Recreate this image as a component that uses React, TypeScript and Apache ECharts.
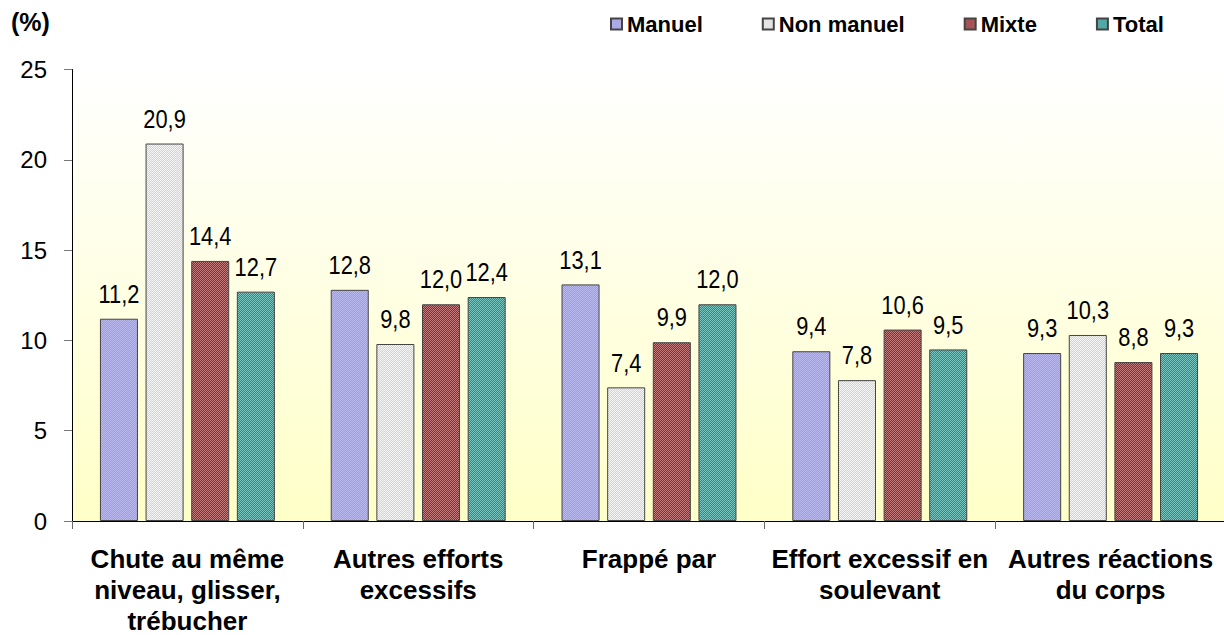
import React, { useEffect, useRef } from "react";
import * as echarts from "echarts";

const categories = [
  "Chute au même\nniveau, glisser,\ntrébucher",
  "Autres efforts\nexcessifs",
  "Frappé par",
  "Effort excessif en\nsoulevant",
  "Autres réactions\ndu corps",
];
const seriesNames = ["Manuel", "Non manuel", "Mixte", "Total"];
const manuel = [11.2, 12.8, 13.1, 9.4, 9.3];
const nonManuel = [20.9, 9.8, 7.4, 7.8, 10.3];
const mixte = [14.4, 12.0, 9.9, 10.6, 8.8];
const total = [12.7, 12.4, 12.0, 9.5, 9.3];
const yTicks = { min: 0, max: 25, interval: 5 };

const palette: [string, string][] = [
  ["#9d9de0", "#b9b9f0"],
  ["#d2d2d2", "#f5f5f5"],
  ["#8a2a2e", "#c67c7c"],
  ["#2a8a86", "#7ac6c1"],
];

const SANS = "'Liberation Sans', Arial, Helvetica, sans-serif";
const BAR_GAP = 0.2;
const CAT_GAP = 0.242;

function makePattern(c1: string, c2: string) {
  const cv = document.createElement("canvas");
  cv.width = 2;
  cv.height = 2;
  const ctx = cv.getContext("2d")!;
  ctx.fillStyle = c1;
  ctx.fillRect(0, 0, 2, 2);
  ctx.fillStyle = c2;
  ctx.fillRect(0, 0, 1, 1);
  ctx.fillRect(1, 1, 1, 1);
  return { image: cv, repeat: "repeat" } as any;
}

export default function App() {
  const ref = useRef<HTMLDivElement>(null);
  useEffect(() => {
    if (!ref.current) return;
    const chart = echarts.init(ref.current, undefined, { renderer: "svg" });
    const data = [manuel, nonManuel, mixte, total];
    const n = data.length;
    const labelData: number[][] = [];
    data.forEach((arr, s) => arr.forEach((v, c) => labelData.push([c, v, s])));

    chart.setOption({
      animation: false,
      backgroundColor: "#ffffff",
      title: {
        text: "(%)",
        left: 11,
        top: 9,
        padding: 0,
        textStyle: { fontFamily: SANS, fontWeight: "bold", fontSize: 25, color: "#000" },
      },
      legend: {
        data: seriesNames,
        left: 610,
        top: 13,
        padding: 0,
        itemWidth: 11,
        itemHeight: 11,
        itemGap: 59,
        icon: "rect",
        textStyle: { fontFamily: SANS, fontWeight: "bold", fontSize: 22, color: "#000" },
      },
      grid: {
        left: 72,
        right: -2,
        top: 69.5,
        bottom: 114,
        outerBoundsMode: "none",
        containLabel: false,
        show: true,
        borderWidth: 0,
        backgroundColor: new echarts.graphic.LinearGradient(0, 0, 0, 1, [
          { offset: 0, color: "#ffffff" },
          { offset: 1, color: "#ffffc8" },
        ]),
      },
      xAxis: {
        type: "category",
        data: categories,
        axisLine: { lineStyle: { color: "#000", width: 1 } },
        axisTick: { show: true, length: 8, lineStyle: { color: "#666" } },
        axisLabel: {
          interval: 0,
          margin: 22,
          fontFamily: SANS,
          fontWeight: "bold",
          fontSize: 26,
          lineHeight: 31,
          color: "#000",
        },
      },
      yAxis: {
        type: "value",
        min: yTicks.min,
        max: yTicks.max,
        interval: yTicks.interval,
        splitLine: { show: false },
        axisLine: { show: true, lineStyle: { color: "#000", width: 1 } },
        axisTick: { show: true, length: 8, lineStyle: { color: "#777" } },
        axisLabel: {
          margin: 25,
          fontFamily: SANS,
          fontSize: 24,
          color: "#000",
        },
      },
      series: [
        ...seriesNames.map((name, i) => ({
          name,
          type: "bar",
          data: data[i],
          barGap: BAR_GAP * 100 + "%",
          barCategoryGap: CAT_GAP * 100 + "%",
          itemStyle: {
            color: makePattern(palette[i][0], palette[i][1]),
            borderColor: "#444",
            borderWidth: 1,
          },
        })),
        {
          type: "custom",
          name: "labels",
          data: labelData,
          encode: { x: 0, y: 1 },
          z: 10,
          silent: true,
          renderItem: (params: any, api: any) => {
            const c = api.value(0);
            const v = api.value(1);
            const s = api.value(2);
            const pt = api.coord([c, v]);
            const band = api.size([1, 0])[0];
            const group = band * (1 - CAT_GAP);
            const bw = group / (n + (n - 1) * BAR_GAP);
            const x = pt[0] - group / 2 + s * bw * (1 + BAR_GAP) + bw / 2;
            return {
              type: "text",
              x,
              y: pt[1] - 12,
              scaleX: 0.84,
              style: {
                text: Number(v).toFixed(1).replace(".", ","),
                x: 0,
                y: 0,
                fill: "#000",
                fontFamily: SANS,
                fontSize: 26,
                align: "center",
                verticalAlign: "bottom",
              },
            };
          },
        },
      ],
    });
    return () => chart.dispose();
  }, []);
  return (
    <div
      ref={ref}
      style={{ position: "fixed", left: 0, top: 0, width: 1224, height: 635 }}
    />
  );
}
